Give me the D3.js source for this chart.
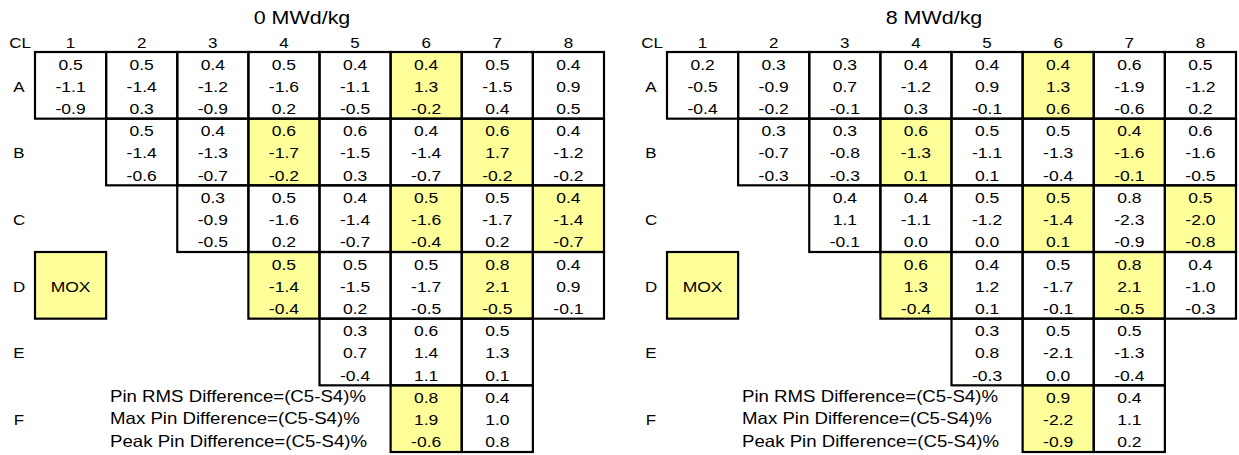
<!DOCTYPE html>
<html>
<head>
<meta charset="utf-8">
<script src="https://cdn.jsdelivr.net/npm/d3@7"></script>
<style>
  html, body { margin: 0; padding: 0; background: #fff; }
  svg { display: block; }
  text { font-family: "Liberation Sans", Arial, sans-serif; fill: #000; }
</style>
</head>
<body>
<svg id="chart" width="1239" height="455"></svg>
<script>
// Octant map of pin power differences (C5 - S4), in %, per assembly.
// Each assembly shows three values: RMS, max and peak pin difference.
const rowLabels = ["A", "B", "C", "D", "E", "F"];
const colLabels = ["1", "2", "3", "4", "5", "6", "7", "8"];
const firstCol = [1, 2, 3, 4, 5, 6];   // first assembly column present in each row
const panelTitles = ["0 MWd/kg", "8 MWd/kg"];
const footLines = ["Pin RMS Difference=(C5-S4)%", "Max Pin Difference=(C5-S4)%", "Peak Pin Difference=(C5-S4)%"];
const moxCells = ["D1"];
const highlighted = ["A6", "B4", "B7", "C6", "C8", "D4", "D7", "F6"];

// 0 MWd/kg
const rms0 = [[0.5, 0.5, 0.4, 0.5, 0.4, 0.4, 0.5, 0.4], [0.5, 0.4, 0.6, 0.6, 0.4, 0.6, 0.4], [0.3, 0.5, 0.4, 0.5, 0.5, 0.4], [0.5, 0.5, 0.5, 0.8, 0.4], [0.3, 0.6, 0.5], [0.8, 0.4]];
const max0 = [[-1.1, -1.4, -1.2, -1.6, -1.1, 1.3, -1.5, 0.9], [-1.4, -1.3, -1.7, -1.5, -1.4, 1.7, -1.2], [-0.9, -1.6, -1.4, -1.6, -1.7, -1.4], [-1.4, -1.5, -1.7, 2.1, 0.9], [0.7, 1.4, 1.3], [1.9, 1.0]];
const peak0 = [[-0.9, 0.3, -0.9, 0.2, -0.5, -0.2, 0.4, 0.5], [-0.6, -0.7, -0.2, 0.3, -0.7, -0.2, -0.2], [-0.5, 0.2, -0.7, -0.4, 0.2, -0.7], [-0.4, 0.2, -0.5, -0.5, -0.1], [-0.4, 1.1, 0.1], [-0.6, 0.8]];

// 8 MWd/kg
const rms8 = [[0.2, 0.3, 0.3, 0.4, 0.4, 0.4, 0.6, 0.5], [0.3, 0.3, 0.6, 0.5, 0.5, 0.4, 0.6], [0.4, 0.4, 0.5, 0.5, 0.8, 0.5], [0.6, 0.4, 0.5, 0.8, 0.4], [0.3, 0.5, 0.5], [0.9, 0.4]];
const max8 = [[-0.5, -0.9, 0.7, -1.2, 0.9, 1.3, -1.9, -1.2], [-0.7, -0.8, -1.3, -1.1, -1.3, -1.6, -1.6], [1.1, -1.1, -1.2, -1.4, -2.3, -2.0], [1.3, 1.2, -1.7, 2.1, -1.0], [0.8, -2.1, -1.3], [-2.2, 1.1]];
const peak8 = [[-0.4, -0.2, -0.1, 0.3, -0.1, 0.6, -0.6, 0.2], [-0.3, -0.3, 0.1, 0.1, -0.4, -0.1, -0.5], [-0.1, 0.0, 0.0, 0.1, -0.9, -0.8], [-0.4, 0.1, -0.1, -0.5, -0.3], [-0.3, 0.0, -0.4], [-0.9, 0.2]];

const panels = [
  { title: panelTitles[0], rms: rms0, max: max0, peak: peak0, x0: 0 },
  { title: panelTitles[1], rms: rms8, max: max8, peak: peak8, x0: 632 }
];

const YELLOW = "#FFFF99";
const SX = 1.13;           // horizontal text stretch
const fmt = d3.formatLocale({ decimal: ".", thousands: ",", grouping: [3], currency: ["", ""], minus: "-" }).format(".1f");
const svg = d3.select("#chart");

const x = d3.scaleBand().domain(colLabels).range([35, 604]).paddingInner(0).paddingOuter(0);
const y = d3.scaleBand().domain(rowLabels).range([52, 452]).paddingInner(0).paddingOuter(0);
const sub = d3.scaleBand().domain([0, 1, 2]).range([0, y.bandwidth()]);

function label(g, tx, ty, txt, size, anchor) {
  g.append("text")
    .attr("transform", `translate(${tx},${ty}) scale(${SX},1)`)
    .attr("text-anchor", anchor || "middle")
    .attr("dy", "0.35em")
    .style("font-size", size + "px")
    .text(txt);
}

panels.forEach(p => {
  const g = svg.append("g").attr("transform", `translate(${p.x0},0)`);

  // panel title
  label(g, 302, 17.5, p.title, 19);

  // column header and row labels
  label(g, 20, 42.5, "CL", 15);
  colLabels.forEach(c => label(g, x(c) + x.bandwidth() / 2, 42.5, c, 15));
  rowLabels.forEach(r => label(g, 19, y(r) + y.bandwidth() / 2 + 1, r, 15));

  // assembly cells
  const cells = [];
  rowLabels.forEach((r, ri) => {
    p.rms[ri].forEach((v, k) => {
      const c = String(firstCol[ri] + k);
      cells.push({ row: r, col: c, vals: [v, p.max[ri][k], p.peak[ri][k]] });
    });
  });

  const cg = g.selectAll("g.cell").data(cells).join("g").attr("class", "cell");
  cg.append("rect")
    .attr("x", d => x(d.col))
    .attr("y", d => y(d.row))
    .attr("width", x.bandwidth())
    .attr("height", y.bandwidth())
    .attr("fill", d => highlighted.includes(d.row + d.col) ? YELLOW : "#fff");
  cg.each(function (d) {
    const sel = d3.select(this);
    d.vals.forEach((v, i) => label(sel, x(d.col) + x.bandwidth() / 2,
      y(d.row) + sub(i) + sub.bandwidth() / 2 + 1, fmt(v), 15.5));
  });

  // MOX assembly
  moxCells.forEach(m => {
    const r = m[0], c = m.slice(1);
    g.append("rect")
      .attr("x", x(c)).attr("y", y(r))
      .attr("width", x.bandwidth()).attr("height", y.bandwidth())
      .attr("fill", YELLOW);
    label(g, x(c) + x.bandwidth() / 2, y(r) + y.bandwidth() / 2 + 1, "MOX", 15.5);
  });

  // cell borders drawn on top so shared edges stay uniform
  const borders = cells.map(d => ({ row: d.row, col: d.col }))
    .concat(moxCells.map(m => ({ row: m[0], col: m.slice(1) })));
  g.selectAll("rect.border").data(borders).join("rect")
    .attr("class", "border")
    .attr("x", d => x(d.col))
    .attr("y", d => y(d.row))
    .attr("width", x.bandwidth())
    .attr("height", y.bandwidth())
    .attr("fill", "none")
    .attr("stroke", "#000")
    .attr("stroke-width", 2.2);

  // legend for the three values in each cell
  footLines.forEach((t, i) => label(g, 110, y("F") + sub(i) + sub.bandwidth() / 2, t, 16.5, "start"));
});
</script>
</body>
</html>
